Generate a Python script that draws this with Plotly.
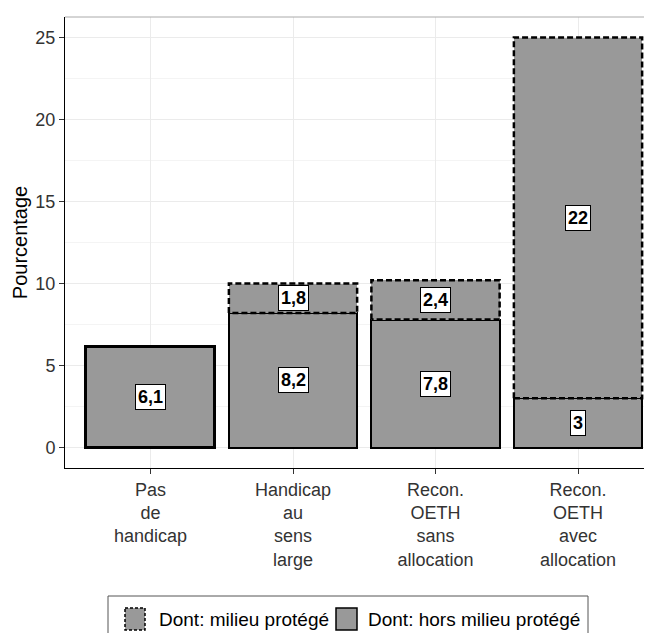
import plotly.graph_objects as go

# ---- data ----
categories = ["Pas<br>de<br>handicap", "Handicap<br>au<br>sens<br>large",
              "Recon.<br>OETH<br>sans<br>allocation", "Recon.<br>OETH<br>avec<br>allocation"]
hors_milieu = [6.1, 8.2, 7.8, 3]
milieu_protege = [0, 1.8, 2.4, 22]
series_names = ["Dont: milieu protégé", "Dont: hors milieu protégé"]
y_ticks = [0, 5, 10, 15, 20, 25]

# ---- style ----
OFF = 8  # page body margin
W, H = 652 - OFF, 633 - OFF
ML, MR, MT, MB = 65 - OFF, 0, 17 - OFF, 633 - 468
BAR_W = 0.9
FILL = "#999999"
FONT = "Liberation Sans, Arial, sans-serif"

def fmt(v):
    if float(v).is_integer():
        return str(int(v))
    return f"{v:.1f}".replace(".", ",")

xs = list(range(len(categories)))

fig = go.Figure()
fig.add_trace(go.Bar(
    x=xs, y=hors_milieu, width=BAR_W, name=series_names[1],
    marker=dict(color=FILL, line=dict(color="black", width=[3.5, 2.5, 2.5, 2.5])),
    showlegend=False,
))
fig.add_trace(go.Bar(
    x=xs, y=milieu_protege, width=BAR_W, name=series_names[0],
    marker=dict(color=FILL, line=dict(width=0)),
    showlegend=False,
))

# dashed outlines of the "milieu protégé" segments, derived from data
ox, oy = [], []
for i, (b, m) in enumerate(zip(hors_milieu, milieu_protege)):
    if m <= 0:
        continue
    l, r = i - BAR_W / 2, i + BAR_W / 2
    ox += [l, l, r, r, l, None]
    oy += [b, b + m, b + m, b, b, None]
fig.add_trace(go.Scatter(
    x=ox, y=oy, mode="lines", hoverinfo="skip", showlegend=False,
    line=dict(color="black", width=2.5, dash="6px,3px"),
))

# value labels
annotations = []
def label(x, y, v):
    return dict(x=x, y=y, xref="x", yref="y", text=f"<b>{fmt(v)}</b>",
                showarrow=False, bgcolor="white", bordercolor="black",
                borderwidth=1, borderpad=2,
                font=dict(family=FONT, size=18, color="black"))
for i, (b, m) in enumerate(zip(hors_milieu, milieu_protege)):
    annotations.append(label(i, b / 2, b))
    if m > 0:
        annotations.append(label(i, b + m / 2, m))

# manual legend (reference-pixel -> paper helpers)
PW, PH = W - ML - MR, H - MT - MB
def px(x):
    return (x - OFF - ML) / PW
def py(y):
    return (H - MB - (y - OFF)) / PH

shapes = [
    # panel top border
    dict(type="line", xref="paper", yref="paper", x0=0, x1=1, y0=1, y1=1,
         line=dict(color="#aaaaaa", width=1)),
    # legend frame
    dict(type="rect", xref="paper", yref="paper", x0=px(108), x1=px(588), y0=py(596), y1=py(650),
         line=dict(color="#555555", width=1), fillcolor="white", layer="below"),
    dict(type="rect", xref="paper", yref="paper", x0=px(125), x1=px(145), y0=py(608), y1=py(630),
         line=dict(color="black", width=1.5, dash="3px,2px"), fillcolor=FILL),
    dict(type="rect", xref="paper", yref="paper", x0=px(336), x1=px(357), y0=py(608), y1=py(630),
         line=dict(color="black", width=1.5), fillcolor=FILL),
]
annotations.append(dict(x=px(157), y=py(619), xref="paper", yref="paper", text=series_names[0],
                        showarrow=False, xanchor="left", yanchor="middle",
                        font=dict(family=FONT, size=19, color="black")))
annotations.append(dict(x=px(366), y=py(619), xref="paper", yref="paper", text=series_names[1],
                        showarrow=False, xanchor="left", yanchor="middle",
                        font=dict(family=FONT, size=19, color="black")))

fig.update_layout(
    width=W, height=H,
    margin=dict(l=ML, r=MR, t=MT, b=MB, pad=0),
    barmode="stack", bargap=0,
    paper_bgcolor="white", plot_bgcolor="white",
    showlegend=False,
    font=dict(family=FONT, color="black"),
    annotations=annotations,
    shapes=shapes,
    xaxis=dict(
        range=[-0.6, -0.6 + PW / 142.5],
        tickmode="array", tickvals=xs, ticktext=categories,
        showgrid=True, gridcolor="#ebebeb", gridwidth=1,
        showline=True, linecolor="black", linewidth=1,
        ticks="outside", ticklen=5, tickcolor="#333333",
        tickfont=dict(family=FONT, size=18, color="#333333"),
        zeroline=False, fixedrange=True,
    ),
    yaxis=dict(
        range=[-1.25, 26.25],
        tickmode="array", tickvals=y_ticks,
        showgrid=True, gridcolor="#ebebeb", gridwidth=1,
        minor=dict(dtick=2.5, showgrid=True, gridcolor="#f4f4f4", gridwidth=1, tick0=0),
        showline=True, linecolor="black", linewidth=1,
        ticks="outside", ticklen=5, tickcolor="#333333",
        tickfont=dict(family=FONT, size=18, color="#333333"),
        title=dict(text="Pourcentage", font=dict(family=FONT, size=20, color="black"), standoff=2),
        zeroline=False, automargin=False,
    ),
)

fig.write_html("out.html")
